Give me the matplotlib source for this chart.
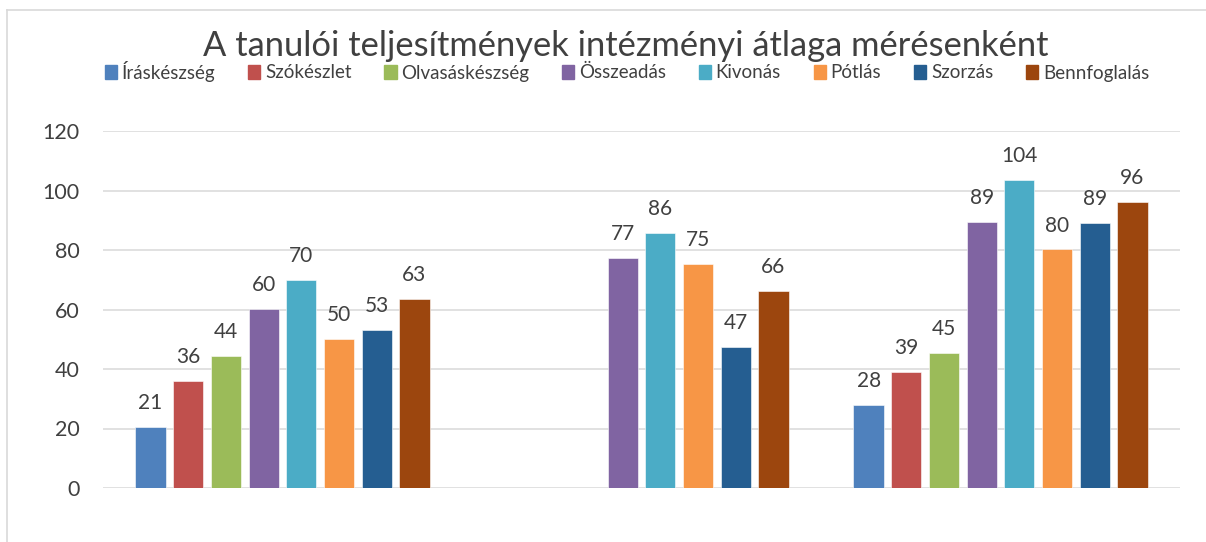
import matplotlib.pyplot as plt
import matplotlib.patches as mpatches
from matplotlib.lines import Line2D
import numpy as np

plt.rcParams['font.family'] = ['Lato', 'DejaVu Sans']

# ====== data ======
title = "A tanulói teljesítmények intézményi átlaga mérésenként"
categories = ["1. mérés", "2. mérés", "3. mérés"]
series_names = ["Íráskészség", "Szókészlet", "Olvasáskészség", "Összeadás",
                "Kivonás", "Pótlás", "Szorzás", "Bennfoglalás"]
irask = [20.6, None, 27.9]
szok = [35.9, None, 39.0]
olvas = [44.4, None, 45.4]
osszead = [60.1, 77.3, 89.3]
kivon = [69.8, 85.8, 103.6]
potlas = [50.0, 75.4, 80.2]
szorzas = [53.0, 47.4, 89.1]
bennfog = [63.4, 66.1, 96.2]
series_values = [irask, szok, olvas, osszead, kivon, potlas, szorzas, bennfog]
yticks = [0, 20, 40, 60, 80, 100, 120]

colors = ["#4F81BD", "#C0504D", "#9BBB59", "#8064A2",
          "#4BACC6", "#F79646", "#255E91", "#9C460E"]
text_color = "#404040"
grid_color = "#D9D9D9"

# ====== figure ======
fig = plt.figure(figsize=(12.06, 5.42), dpi=100)
ax = fig.add_axes([103 / 1206, 1 - 488 / 542, (1180 - 103) / 1206, (488 - 131) / 542])

x = np.arange(len(categories))
pitch = 0.105
width = 0.084
n = len(series_names)

for i, (name, vals) in enumerate(zip(series_names, series_values)):
    xs = [xi + (i - (n - 1) / 2) * pitch for xi, v in zip(x, vals) if v is not None]
    ys = [v for v in vals if v is not None]
    ax.bar(xs, ys, width=width, color=colors[i], label=name, zorder=3,
           edgecolor="white", linewidth=0.4)
    for xb, yb in zip(xs, ys):
        ax.annotate(f"{yb:.0f}", (xb, yb), xytext=(0, 10), textcoords="offset points",
                    ha="center", va="bottom", fontsize=15, color=text_color)

# axes styling
ax.set_xlim(-0.5, 2.5)
ax.set_ylim(0, 120)
ax.set_yticks(yticks)
ax.set_xticks([])
ax.tick_params(axis="y", length=0, pad=17, labelsize=15.5, labelcolor=text_color)
ax.grid(True, axis="y", color=grid_color, linewidth=1.1, zorder=0)
for s in ax.spines.values():
    s.set_visible(False)

# chart area border (only top/left visible in the crop)
fig.add_artist(Line2D([7 / 1206, 1.0], [1 - 10 / 542] * 2, color=grid_color, lw=1.2))
fig.add_artist(Line2D([7 / 1206] * 2, [0, 1 - 10 / 542], color=grid_color, lw=1.2))

# title and legend
fig.text(626 / 1206, 1 - 46 / 542, title, ha="center", va="center", fontsize=24.8, color=text_color)
handles = [mpatches.Patch(color=c, label=nm) for c, nm in zip(colors, series_names)]
fig.legend(handles=handles, loc="center", bbox_to_anchor=(627 / 1206, 1 - 71 / 542),
           ncol=8, frameon=False, fontsize=13.5, handlelength=0.65, handleheight=0.8,
           handletextpad=0.25, columnspacing=1.75, labelcolor=text_color,
           borderaxespad=0, borderpad=0)

plt.savefig("out.png", dpi=100)
